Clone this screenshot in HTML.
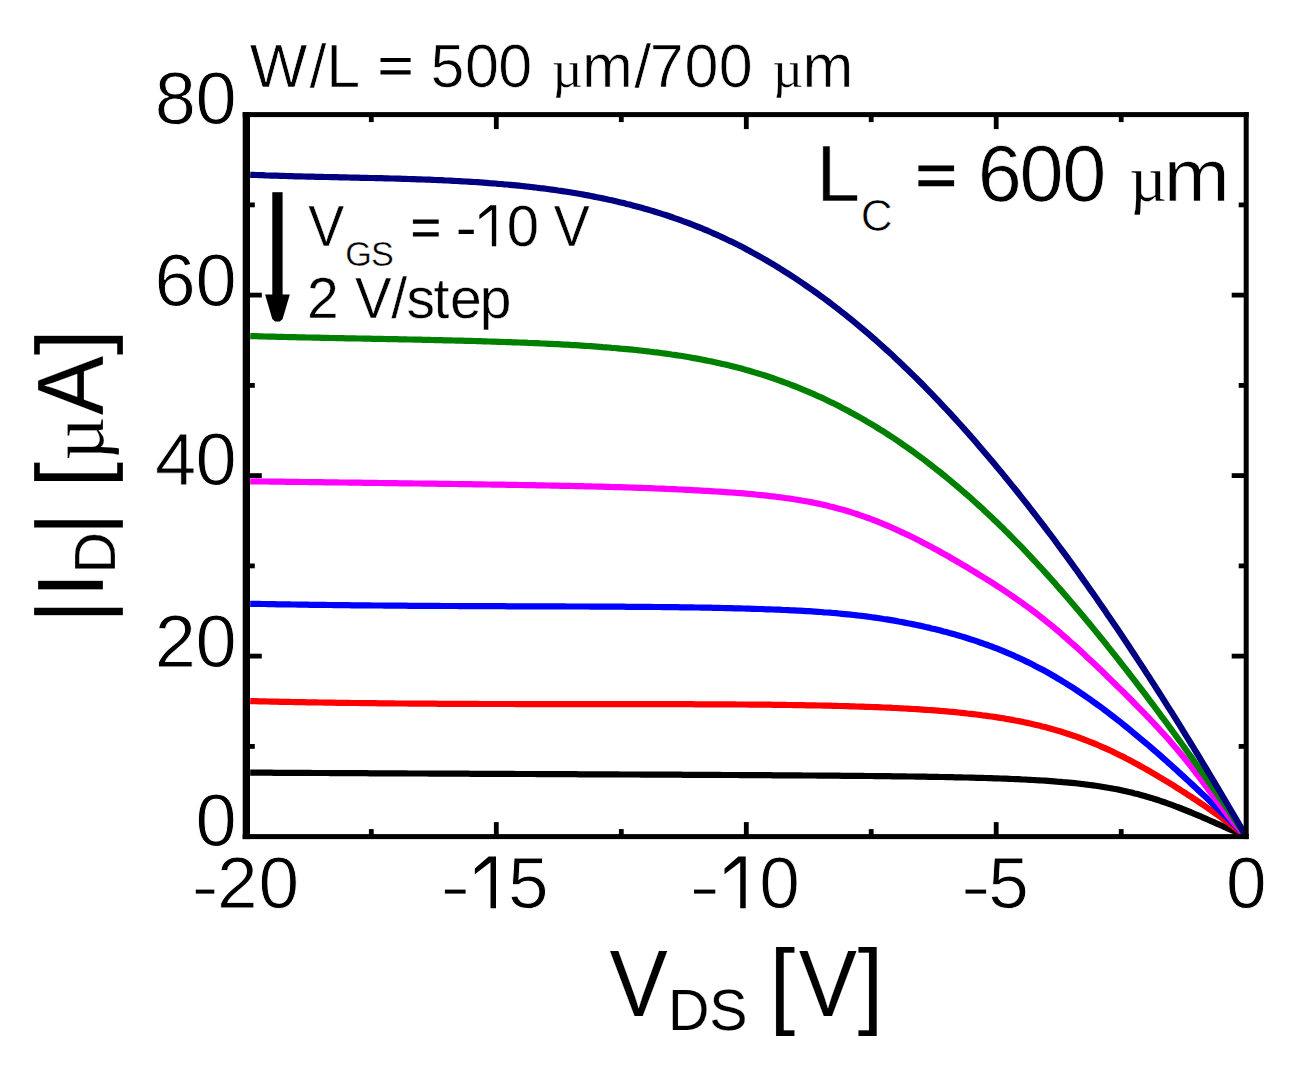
<!DOCTYPE html>
<html><head><meta charset="utf-8"><style>
html,body{margin:0;padding:0;background:#fff;overflow:hidden;}
svg{display:block;}
text{font-family:"Liberation Sans",sans-serif;fill:#000;}
.s{font-family:"Liberation Serif",serif;}
.t text{stroke:#fff;}
</style></head><body>
<svg width="1297" height="1069" viewBox="0 0 1297 1069">
<rect width="1297" height="1069" fill="#fff"/>
<defs><clipPath id="pc"><rect x="242.7" y="112.1" width="1006" height="727"/></clipPath></defs>
<g clip-path="url(#pc)">
<path d="M1246.2,836.6 L1243.7,835.5 L1241.2,834.4 L1238.7,833.3 L1236.2,832.1 L1233.7,831.0 L1231.2,829.9 L1228.7,828.8 L1226.2,827.7 L1223.7,826.6 L1221.2,825.5 L1218.7,824.4 L1216.2,823.3 L1213.7,822.2 L1211.2,821.1 L1208.7,820.0 L1206.2,818.9 L1203.7,817.8 L1201.2,816.7 L1198.7,815.7 L1196.2,814.6 L1193.7,813.6 L1191.2,812.5 L1188.7,811.5 L1186.2,810.5 L1183.7,809.5 L1181.2,808.5 L1178.7,807.5 L1176.2,806.6 L1173.7,805.6 L1171.2,804.7 L1168.7,803.8 L1166.2,802.9 L1163.7,802.0 L1161.2,801.2 L1158.7,800.3 L1156.2,799.5 L1153.7,798.7 L1151.2,797.9 L1148.7,797.2 L1146.2,796.5 L1143.7,795.7 L1140.7,794.9 L1137.7,794.1 L1134.7,793.4 L1131.7,792.6 L1128.8,791.9 L1125.8,791.2 L1122.8,790.6 L1119.8,789.9 L1116.8,789.3 L1113.8,788.8 L1110.8,788.2 L1107.8,787.7 L1104.9,787.2 L1101.9,786.7 L1098.9,786.2 L1095.9,785.8 L1092.9,785.4 L1089.9,785.0 L1086.9,784.6 L1083.9,784.2 L1080.9,783.9 L1078.0,783.5 L1075.0,783.2 L1072.0,782.9 L1069.0,782.6 L1066.0,782.3 L1063.0,782.1 L1060.0,781.8 L1057.0,781.6 L1054.1,781.3 L1051.1,781.1 L1048.1,780.9 L1045.1,780.7 L1042.1,780.5 L1039.1,780.3 L1036.1,780.2 L1033.1,780.0 L1030.1,779.8 L1027.2,779.7 L1024.2,779.5 L1021.2,779.4 L1018.2,779.2 L1015.2,779.1 L1012.2,779.0 L1009.2,778.8 L1006.2,778.7 L1003.3,778.6 L1000.3,778.5 L997.3,778.4 L994.3,778.3 L991.3,778.2 L988.3,778.1 L985.3,778.0 L982.3,777.9 L979.3,777.8 L976.4,777.8 L973.4,777.7 L970.4,777.6 L967.4,777.5 L964.4,777.5 L961.4,777.4 L958.4,777.3 L955.4,777.3 L952.4,777.2 L949.5,777.1 L946.5,777.1 L943.5,777.0 L940.5,777.0 L937.5,776.9 L934.5,776.9 L931.5,776.8 L928.5,776.8 L925.6,776.7 L922.6,776.7 L919.6,776.6 L916.6,776.6 L913.6,776.5 L910.6,776.5 L907.6,776.5 L904.6,776.4 L901.6,776.4 L898.7,776.3 L895.7,776.3 L892.7,776.3 L889.7,776.2 L886.7,776.2 L883.7,776.2 L880.7,776.1 L877.7,776.1 L874.8,776.1 L871.8,776.0 L868.8,776.0 L865.8,776.0 L862.8,775.9 L859.8,775.9 L856.8,775.9 L853.8,775.9 L850.8,775.8 L847.9,775.8 L844.9,775.8 L841.9,775.8 L838.9,775.7 L835.9,775.7 L832.9,775.7 L829.9,775.7 L826.9,775.6 L824.0,775.6 L821.0,775.6 L818.0,775.6 L815.0,775.5 L812.0,775.5 L809.0,775.5 L806.0,775.5 L803.0,775.5 L800.0,775.4 L797.1,775.4 L794.1,775.4 L791.1,775.4 L788.1,775.4 L785.1,775.3 L782.1,775.3 L779.1,775.3 L776.1,775.3 L773.2,775.3 L770.2,775.2 L767.2,775.2 L764.2,775.2 L761.2,775.2 L758.2,775.2 L755.2,775.1 L752.2,775.1 L749.2,775.1 L746.3,775.1 L743.3,775.1 L740.3,775.1 L737.3,775.0 L734.3,775.0 L731.3,775.0 L728.3,775.0 L725.3,775.0 L722.4,775.0 L719.4,774.9 L716.4,774.9 L713.4,774.9 L710.4,774.9 L707.4,774.9 L704.4,774.9 L701.4,774.9 L698.4,774.8 L695.5,774.8 L692.5,774.8 L689.5,774.8 L686.5,774.8 L683.5,774.8 L680.5,774.7 L677.5,774.7 L674.5,774.7 L671.5,774.7 L668.6,774.7 L665.6,774.7 L662.6,774.7 L659.6,774.6 L656.6,774.6 L653.6,774.6 L650.6,774.6 L647.6,774.6 L644.7,774.6 L641.7,774.6 L638.7,774.5 L635.7,774.5 L632.7,774.5 L629.7,774.5 L626.7,774.5 L623.7,774.5 L620.7,774.5 L617.8,774.4 L614.8,774.4 L611.8,774.4 L608.8,774.4 L605.8,774.4 L602.8,774.4 L599.8,774.4 L596.8,774.3 L593.9,774.3 L590.9,774.3 L587.9,774.3 L584.9,774.3 L581.9,774.3 L578.9,774.3 L575.9,774.2 L572.9,774.2 L569.9,774.2 L567.0,774.2 L564.0,774.2 L561.0,774.2 L558.0,774.2 L555.0,774.1 L552.0,774.1 L549.0,774.1 L546.0,774.1 L543.1,774.1 L540.1,774.1 L537.1,774.1 L534.1,774.0 L531.1,774.0 L528.1,774.0 L525.1,774.0 L522.1,774.0 L519.1,774.0 L516.2,774.0 L513.2,773.9 L510.2,773.9 L507.2,773.9 L504.2,773.9 L501.2,773.9 L498.2,773.9 L495.2,773.9 L492.3,773.9 L489.3,773.8 L486.3,773.8 L483.3,773.8 L480.3,773.8 L477.3,773.8 L474.3,773.8 L471.3,773.8 L468.3,773.7 L465.4,773.7 L462.4,773.7 L459.4,773.7 L456.4,773.7 L453.4,773.7 L450.4,773.7 L447.4,773.6 L444.4,773.6 L441.5,773.6 L438.5,773.6 L435.5,773.6 L432.5,773.6 L429.5,773.6 L426.5,773.5 L423.5,773.5 L420.5,773.5 L417.5,773.5 L414.6,773.5 L411.6,773.5 L408.6,773.5 L405.6,773.4 L402.6,773.4 L399.6,773.4 L396.6,773.4 L393.6,773.4 L390.6,773.4 L387.7,773.3 L384.7,773.3 L381.7,773.3 L378.7,773.3 L375.7,773.3 L372.7,773.3 L369.7,773.3 L366.7,773.2 L363.8,773.2 L360.8,773.2 L357.8,773.2 L354.8,773.2 L351.8,773.2 L348.8,773.2 L345.8,773.1 L342.8,773.1 L339.8,773.1 L336.9,773.1 L333.9,773.1 L330.9,773.1 L327.9,773.0 L324.9,773.0 L321.9,773.0 L318.9,773.0 L315.9,773.0 L313.0,773.0 L310.0,772.9 L307.0,772.9 L304.0,772.9 L301.0,772.9 L298.0,772.9 L295.0,772.9 L292.0,772.9 L289.0,772.8 L286.1,772.8 L283.1,772.8 L280.1,772.8 L277.1,772.8 L274.1,772.8 L271.1,772.7 L268.1,772.7 L265.1,772.7 L262.2,772.7 L259.2,772.7 L256.2,772.7 L253.2,772.6 L250.2,772.6" fill="none" stroke="#000000" stroke-width="6.2" stroke-linejoin="round"/>
<path d="M1246.2,836.6 L1243.7,834.6 L1241.2,832.6 L1238.7,830.7 L1236.2,828.7 L1233.7,826.8 L1231.2,824.9 L1228.7,823.1 L1226.2,821.2 L1223.7,819.4 L1221.2,817.6 L1218.7,815.8 L1216.2,814.0 L1213.7,812.2 L1211.2,810.4 L1208.7,808.7 L1206.2,807.0 L1203.7,805.3 L1201.2,803.6 L1198.7,801.9 L1196.2,800.2 L1193.7,798.6 L1191.2,796.9 L1188.7,795.3 L1186.2,793.7 L1183.7,792.1 L1181.2,790.5 L1178.7,788.9 L1176.2,787.3 L1173.7,785.7 L1171.2,784.2 L1168.7,782.6 L1166.2,781.1 L1163.7,779.6 L1161.2,778.1 L1158.7,776.6 L1156.2,775.1 L1153.7,773.6 L1151.2,772.2 L1148.7,770.7 L1146.2,769.3 L1143.7,767.9 L1140.7,766.2 L1137.7,764.5 L1134.7,762.9 L1131.7,761.3 L1128.8,759.7 L1125.8,758.2 L1122.8,756.6 L1119.8,755.2 L1116.8,753.7 L1113.8,752.2 L1110.8,750.8 L1107.8,749.4 L1104.9,748.1 L1101.9,746.8 L1098.9,745.5 L1095.9,744.2 L1092.9,743.0 L1089.9,741.8 L1086.9,740.6 L1083.9,739.5 L1080.9,738.3 L1078.0,737.3 L1075.0,736.2 L1072.0,735.2 L1069.0,734.2 L1066.0,733.2 L1063.0,732.3 L1060.0,731.3 L1057.0,730.5 L1054.1,729.6 L1051.1,728.7 L1048.1,727.9 L1045.1,727.1 L1042.1,726.4 L1039.1,725.6 L1036.1,724.9 L1033.1,724.2 L1030.1,723.5 L1027.2,722.9 L1024.2,722.3 L1021.2,721.6 L1018.2,721.0 L1015.2,720.5 L1012.2,719.9 L1009.2,719.4 L1006.2,718.9 L1003.3,718.3 L1000.3,717.9 L997.3,717.4 L994.3,716.9 L991.3,716.5 L988.3,716.1 L985.3,715.6 L982.3,715.3 L979.3,714.9 L976.4,714.5 L973.4,714.1 L970.4,713.8 L967.4,713.5 L964.4,713.1 L961.4,712.8 L958.4,712.5 L955.4,712.2 L952.4,711.9 L949.5,711.7 L946.5,711.4 L943.5,711.1 L940.5,710.9 L937.5,710.6 L934.5,710.4 L931.5,710.2 L928.5,710.0 L925.6,709.8 L922.6,709.6 L919.6,709.4 L916.6,709.2 L913.6,709.0 L910.6,708.8 L907.6,708.6 L904.6,708.5 L901.6,708.3 L898.7,708.2 L895.7,708.0 L892.7,707.9 L889.7,707.7 L886.7,707.6 L883.7,707.5 L880.7,707.3 L877.7,707.2 L874.8,707.1 L871.8,707.0 L868.8,706.9 L865.8,706.8 L862.8,706.7 L859.8,706.6 L856.8,706.5 L853.8,706.4 L850.8,706.3 L847.9,706.2 L844.9,706.1 L841.9,706.0 L838.9,706.0 L835.9,705.9 L832.9,705.8 L829.9,705.7 L826.9,705.7 L824.0,705.6 L821.0,705.5 L818.0,705.5 L815.0,705.4 L812.0,705.4 L809.0,705.3 L806.0,705.3 L803.0,705.2 L800.0,705.2 L797.1,705.1 L794.1,705.1 L791.1,705.0 L788.1,705.0 L785.1,704.9 L782.1,704.9 L779.1,704.9 L776.1,704.8 L773.2,704.8 L770.2,704.7 L767.2,704.7 L764.2,704.7 L761.2,704.7 L758.2,704.6 L755.2,704.6 L752.2,704.6 L749.2,704.6 L746.3,704.5 L743.3,704.5 L740.3,704.5 L737.3,704.5 L734.3,704.4 L731.3,704.4 L728.3,704.4 L725.3,704.4 L722.4,704.4 L719.4,704.4 L716.4,704.3 L713.4,704.3 L710.4,704.3 L707.4,704.3 L704.4,704.3 L701.4,704.3 L698.4,704.3 L695.5,704.3 L692.5,704.2 L689.5,704.2 L686.5,704.2 L683.5,704.2 L680.5,704.2 L677.5,704.2 L674.5,704.2 L671.5,704.2 L668.6,704.2 L665.6,704.2 L662.6,704.2 L659.6,704.2 L656.6,704.2 L653.6,704.2 L650.6,704.2 L647.6,704.2 L644.7,704.2 L641.7,704.2 L638.7,704.1 L635.7,704.1 L632.7,704.1 L629.7,704.1 L626.7,704.1 L623.7,704.1 L620.7,704.1 L617.8,704.1 L614.8,704.1 L611.8,704.1 L608.8,704.1 L605.8,704.1 L602.8,704.1 L599.8,704.1 L596.8,704.1 L593.9,704.1 L590.9,704.1 L587.9,704.1 L584.9,704.1 L581.9,704.1 L578.9,704.1 L575.9,704.1 L572.9,704.1 L569.9,704.1 L567.0,704.1 L564.0,704.1 L561.0,704.1 L558.0,704.1 L555.0,704.1 L552.0,704.1 L549.0,704.1 L546.0,704.1 L543.1,704.1 L540.1,704.1 L537.1,704.1 L534.1,704.1 L531.1,704.1 L528.1,704.1 L525.1,704.1 L522.1,704.1 L519.1,704.1 L516.2,704.1 L513.2,704.0 L510.2,704.0 L507.2,704.0 L504.2,704.0 L501.2,704.0 L498.2,704.0 L495.2,704.0 L492.3,704.0 L489.3,704.0 L486.3,704.0 L483.3,704.0 L480.3,704.0 L477.3,703.9 L474.3,703.9 L471.3,703.9 L468.3,703.9 L465.4,703.9 L462.4,703.9 L459.4,703.9 L456.4,703.9 L453.4,703.8 L450.4,703.8 L447.4,703.8 L444.4,703.8 L441.5,703.8 L438.5,703.8 L435.5,703.7 L432.5,703.7 L429.5,703.7 L426.5,703.7 L423.5,703.7 L420.5,703.6 L417.5,703.6 L414.6,703.6 L411.6,703.6 L408.6,703.6 L405.6,703.5 L402.6,703.5 L399.6,703.5 L396.6,703.5 L393.6,703.4 L390.6,703.4 L387.7,703.4 L384.7,703.3 L381.7,703.3 L378.7,703.3 L375.7,703.2 L372.7,703.2 L369.7,703.2 L366.7,703.1 L363.8,703.1 L360.8,703.1 L357.8,703.0 L354.8,703.0 L351.8,703.0 L348.8,702.9 L345.8,702.9 L342.8,702.8 L339.8,702.8 L336.9,702.8 L333.9,702.7 L330.9,702.7 L327.9,702.6 L324.9,702.6 L321.9,702.5 L318.9,702.5 L315.9,702.4 L313.0,702.4 L310.0,702.3 L307.0,702.3 L304.0,702.2 L301.0,702.2 L298.0,702.1 L295.0,702.1 L292.0,702.0 L289.0,701.9 L286.1,701.9 L283.1,701.8 L280.1,701.8 L277.1,701.7 L274.1,701.6 L271.1,701.6 L268.1,701.5 L265.1,701.4 L262.2,701.4 L259.2,701.3 L256.2,701.2 L253.2,701.2 L250.2,701.1" fill="none" stroke="#ff0000" stroke-width="6.2" stroke-linejoin="round"/>
<path d="M1246.2,836.6 L1243.7,834.1 L1241.2,831.6 L1238.7,829.1 L1236.2,826.6 L1233.7,824.2 L1231.2,821.7 L1228.7,819.3 L1226.2,816.8 L1223.7,814.4 L1221.2,812.0 L1218.7,809.6 L1216.2,807.2 L1213.7,804.8 L1211.2,802.4 L1208.7,800.0 L1206.2,797.6 L1203.7,795.3 L1201.2,792.9 L1198.7,790.6 L1196.2,788.2 L1193.7,785.9 L1191.2,783.6 L1188.7,781.3 L1186.2,778.9 L1183.7,776.6 L1181.2,774.4 L1178.7,772.1 L1176.2,769.8 L1173.7,767.6 L1171.2,765.3 L1168.7,763.1 L1166.2,760.8 L1163.7,758.6 L1161.2,756.4 L1158.7,754.2 L1156.2,752.0 L1153.7,749.8 L1151.2,747.7 L1148.7,745.5 L1146.2,743.4 L1143.7,741.3 L1140.7,738.8 L1137.7,736.3 L1134.7,733.8 L1131.7,731.3 L1128.8,728.9 L1125.8,726.5 L1122.8,724.1 L1119.8,721.7 L1116.8,719.3 L1113.8,717.0 L1110.8,714.7 L1107.8,712.4 L1104.9,710.2 L1101.9,707.9 L1098.9,705.7 L1095.9,703.6 L1092.9,701.4 L1089.9,699.3 L1086.9,697.2 L1083.9,695.1 L1080.9,693.1 L1078.0,691.1 L1075.0,689.1 L1072.0,687.2 L1069.0,685.3 L1066.0,683.4 L1063.0,681.6 L1060.0,679.7 L1057.0,678.0 L1054.1,676.2 L1051.1,674.5 L1048.1,672.8 L1045.1,671.1 L1042.1,669.5 L1039.1,667.9 L1036.1,666.4 L1033.1,664.8 L1030.1,663.3 L1027.2,661.9 L1024.2,660.4 L1021.2,659.0 L1018.2,657.6 L1015.2,656.3 L1012.2,654.9 L1009.2,653.7 L1006.2,652.4 L1003.3,651.1 L1000.3,649.9 L997.3,648.7 L994.3,647.6 L991.3,646.4 L988.3,645.3 L985.3,644.3 L982.3,643.2 L979.3,642.2 L976.4,641.1 L973.4,640.1 L970.4,639.2 L967.4,638.2 L964.4,637.3 L961.4,636.4 L958.4,635.5 L955.4,634.6 L952.4,633.8 L949.5,633.0 L946.5,632.1 L943.5,631.4 L940.5,630.6 L937.5,629.8 L934.5,629.1 L931.5,628.4 L928.5,627.6 L925.6,627.0 L922.6,626.3 L919.6,625.6 L916.6,625.0 L913.6,624.4 L910.6,623.8 L907.6,623.2 L904.6,622.6 L901.6,622.0 L898.7,621.5 L895.7,620.9 L892.7,620.4 L889.7,619.9 L886.7,619.4 L883.7,619.0 L880.7,618.5 L877.7,618.0 L874.8,617.6 L871.8,617.2 L868.8,616.8 L865.8,616.4 L862.8,616.0 L859.8,615.7 L856.8,615.3 L853.8,615.0 L850.8,614.7 L847.9,614.4 L844.9,614.1 L841.9,613.8 L838.9,613.5 L835.9,613.2 L832.9,613.0 L829.9,612.7 L826.9,612.5 L824.0,612.3 L821.0,612.0 L818.0,611.8 L815.0,611.6 L812.0,611.4 L809.0,611.2 L806.0,611.1 L803.0,610.9 L800.0,610.7 L797.1,610.6 L794.1,610.4 L791.1,610.3 L788.1,610.1 L785.1,610.0 L782.1,609.9 L779.1,609.7 L776.1,609.6 L773.2,609.5 L770.2,609.4 L767.2,609.3 L764.2,609.2 L761.2,609.0 L758.2,609.0 L755.2,608.9 L752.2,608.8 L749.2,608.7 L746.3,608.6 L743.3,608.5 L740.3,608.4 L737.3,608.3 L734.3,608.3 L731.3,608.2 L728.3,608.1 L725.3,608.1 L722.4,608.0 L719.4,607.9 L716.4,607.9 L713.4,607.8 L710.4,607.7 L707.4,607.7 L704.4,607.6 L701.4,607.6 L698.4,607.5 L695.5,607.5 L692.5,607.4 L689.5,607.4 L686.5,607.4 L683.5,607.3 L680.5,607.3 L677.5,607.2 L674.5,607.2 L671.5,607.2 L668.6,607.1 L665.6,607.1 L662.6,607.1 L659.6,607.0 L656.6,607.0 L653.6,607.0 L650.6,606.9 L647.6,606.9 L644.7,606.9 L641.7,606.9 L638.7,606.8 L635.7,606.8 L632.7,606.8 L629.7,606.8 L626.7,606.8 L623.7,606.7 L620.7,606.7 L617.8,606.7 L614.8,606.7 L611.8,606.7 L608.8,606.6 L605.8,606.6 L602.8,606.6 L599.8,606.6 L596.8,606.6 L593.9,606.6 L590.9,606.6 L587.9,606.5 L584.9,606.5 L581.9,606.5 L578.9,606.5 L575.9,606.5 L572.9,606.5 L569.9,606.5 L567.0,606.5 L564.0,606.4 L561.0,606.4 L558.0,606.4 L555.0,606.4 L552.0,606.4 L549.0,606.4 L546.0,606.4 L543.1,606.4 L540.1,606.4 L537.1,606.4 L534.1,606.3 L531.1,606.3 L528.1,606.3 L525.1,606.3 L522.1,606.3 L519.1,606.3 L516.2,606.3 L513.2,606.3 L510.2,606.3 L507.2,606.3 L504.2,606.2 L501.2,606.2 L498.2,606.2 L495.2,606.2 L492.3,606.2 L489.3,606.2 L486.3,606.2 L483.3,606.2 L480.3,606.1 L477.3,606.1 L474.3,606.1 L471.3,606.1 L468.3,606.1 L465.4,606.1 L462.4,606.1 L459.4,606.1 L456.4,606.0 L453.4,606.0 L450.4,606.0 L447.4,606.0 L444.4,606.0 L441.5,606.0 L438.5,605.9 L435.5,605.9 L432.5,605.9 L429.5,605.9 L426.5,605.9 L423.5,605.9 L420.5,605.8 L417.5,605.8 L414.6,605.8 L411.6,605.8 L408.6,605.8 L405.6,605.7 L402.6,605.7 L399.6,605.7 L396.6,605.7 L393.6,605.6 L390.6,605.6 L387.7,605.6 L384.7,605.6 L381.7,605.5 L378.7,605.5 L375.7,605.5 L372.7,605.5 L369.7,605.4 L366.7,605.4 L363.8,605.4 L360.8,605.4 L357.8,605.3 L354.8,605.3 L351.8,605.3 L348.8,605.2 L345.8,605.2 L342.8,605.2 L339.8,605.1 L336.9,605.1 L333.9,605.1 L330.9,605.0 L327.9,605.0 L324.9,604.9 L321.9,604.9 L318.9,604.9 L315.9,604.8 L313.0,604.8 L310.0,604.8 L307.0,604.7 L304.0,604.7 L301.0,604.6 L298.0,604.6 L295.0,604.5 L292.0,604.5 L289.0,604.4 L286.1,604.4 L283.1,604.3 L280.1,604.3 L277.1,604.3 L274.1,604.2 L271.1,604.2 L268.1,604.1 L265.1,604.0 L262.2,604.0 L259.2,603.9 L256.2,603.9 L253.2,603.8 L250.2,603.8" fill="none" stroke="#0000ff" stroke-width="6.2" stroke-linejoin="round"/>
<path d="M1246.2,836.6 L1243.7,833.9 L1241.2,831.2 L1238.7,828.3 L1236.2,825.4 L1233.7,822.4 L1231.2,819.3 L1228.7,816.2 L1226.2,813.0 L1223.7,809.8 L1221.2,806.5 L1218.7,803.2 L1216.2,799.9 L1213.7,796.5 L1211.2,793.2 L1208.7,789.8 L1206.2,786.5 L1203.7,783.1 L1201.2,779.7 L1198.7,776.4 L1196.2,773.1 L1193.7,769.9 L1191.2,766.6 L1188.7,763.5 L1186.2,760.3 L1183.7,757.3 L1181.2,754.2 L1178.7,751.2 L1176.2,748.3 L1173.7,745.4 L1171.2,742.5 L1168.7,739.6 L1166.2,736.8 L1163.7,734.0 L1161.2,731.3 L1158.7,728.5 L1156.2,725.8 L1153.7,723.2 L1151.2,720.5 L1148.7,717.9 L1146.2,715.3 L1143.7,712.7 L1140.7,709.6 L1137.7,706.6 L1134.7,703.5 L1131.7,700.5 L1128.8,697.5 L1125.8,694.5 L1122.8,691.6 L1119.8,688.6 L1116.8,685.7 L1113.8,682.7 L1110.8,679.8 L1107.8,676.9 L1104.9,674.0 L1101.9,671.1 L1098.9,668.2 L1095.9,665.3 L1092.9,662.5 L1089.9,659.7 L1086.9,656.9 L1083.9,654.1 L1080.9,651.3 L1078.0,648.6 L1075.0,645.9 L1072.0,643.2 L1069.0,640.6 L1066.0,637.9 L1063.0,635.3 L1060.0,632.7 L1057.0,630.2 L1054.1,627.7 L1051.1,625.2 L1048.1,622.8 L1045.1,620.4 L1042.1,618.0 L1039.1,615.6 L1036.1,613.3 L1033.1,611.1 L1030.1,608.8 L1027.2,606.6 L1024.2,604.4 L1021.2,602.3 L1018.2,600.2 L1015.2,598.1 L1012.2,596.0 L1009.2,594.0 L1006.2,592.0 L1003.3,590.0 L1000.3,588.0 L997.3,586.1 L994.3,584.2 L991.3,582.2 L988.3,580.4 L985.3,578.5 L982.3,576.6 L979.3,574.8 L976.4,573.0 L973.4,571.1 L970.4,569.3 L967.4,567.5 L964.4,565.8 L961.4,564.0 L958.4,562.2 L955.4,560.5 L952.4,558.8 L949.5,557.0 L946.5,555.3 L943.5,553.7 L940.5,552.0 L937.5,550.3 L934.5,548.7 L931.5,547.1 L928.5,545.5 L925.6,543.9 L922.6,542.4 L919.6,540.8 L916.6,539.3 L913.6,537.8 L910.6,536.3 L907.6,534.9 L904.6,533.5 L901.6,532.1 L898.7,530.7 L895.7,529.3 L892.7,528.0 L889.7,526.7 L886.7,525.4 L883.7,524.1 L880.7,522.9 L877.7,521.7 L874.8,520.5 L871.8,519.4 L868.8,518.2 L865.8,517.2 L862.8,516.1 L859.8,515.1 L856.8,514.0 L853.8,513.1 L850.8,512.1 L847.9,511.2 L844.9,510.3 L841.9,509.5 L838.9,508.7 L835.9,507.9 L832.9,507.1 L829.9,506.4 L826.9,505.6 L824.0,504.9 L821.0,504.3 L818.0,503.6 L815.0,503.0 L812.0,502.4 L809.0,501.8 L806.0,501.3 L803.0,500.8 L800.0,500.2 L797.1,499.7 L794.1,499.3 L791.1,498.8 L788.1,498.4 L785.1,498.0 L782.1,497.5 L779.1,497.2 L776.1,496.8 L773.2,496.4 L770.2,496.1 L767.2,495.7 L764.2,495.4 L761.2,495.1 L758.2,494.8 L755.2,494.5 L752.2,494.2 L749.2,494.0 L746.3,493.7 L743.3,493.4 L740.3,493.2 L737.3,493.0 L734.3,492.7 L731.3,492.5 L728.3,492.3 L725.3,492.1 L722.4,491.9 L719.4,491.7 L716.4,491.5 L713.4,491.3 L710.4,491.1 L707.4,490.9 L704.4,490.8 L701.4,490.6 L698.4,490.4 L695.5,490.3 L692.5,490.1 L689.5,489.9 L686.5,489.8 L683.5,489.6 L680.5,489.5 L677.5,489.4 L674.5,489.2 L671.5,489.1 L668.6,489.0 L665.6,488.8 L662.6,488.7 L659.6,488.6 L656.6,488.5 L653.6,488.3 L650.6,488.2 L647.6,488.1 L644.7,488.0 L641.7,487.9 L638.7,487.8 L635.7,487.7 L632.7,487.6 L629.7,487.5 L626.7,487.4 L623.7,487.3 L620.7,487.2 L617.8,487.1 L614.8,487.1 L611.8,487.0 L608.8,486.9 L605.8,486.8 L602.8,486.7 L599.8,486.7 L596.8,486.6 L593.9,486.5 L590.9,486.4 L587.9,486.4 L584.9,486.3 L581.9,486.2 L578.9,486.1 L575.9,486.1 L572.9,486.0 L569.9,485.9 L567.0,485.9 L564.0,485.8 L561.0,485.8 L558.0,485.7 L555.0,485.6 L552.0,485.6 L549.0,485.5 L546.0,485.5 L543.1,485.4 L540.1,485.4 L537.1,485.3 L534.1,485.2 L531.1,485.2 L528.1,485.1 L525.1,485.1 L522.1,485.0 L519.1,485.0 L516.2,484.9 L513.2,484.9 L510.2,484.8 L507.2,484.8 L504.2,484.7 L501.2,484.7 L498.2,484.7 L495.2,484.6 L492.3,484.6 L489.3,484.5 L486.3,484.5 L483.3,484.4 L480.3,484.4 L477.3,484.3 L474.3,484.3 L471.3,484.2 L468.3,484.2 L465.4,484.2 L462.4,484.1 L459.4,484.1 L456.4,484.0 L453.4,484.0 L450.4,483.9 L447.4,483.9 L444.4,483.9 L441.5,483.8 L438.5,483.8 L435.5,483.7 L432.5,483.7 L429.5,483.7 L426.5,483.6 L423.5,483.6 L420.5,483.5 L417.5,483.5 L414.6,483.5 L411.6,483.4 L408.6,483.4 L405.6,483.3 L402.6,483.3 L399.6,483.3 L396.6,483.2 L393.6,483.2 L390.6,483.1 L387.7,483.1 L384.7,483.1 L381.7,483.0 L378.7,483.0 L375.7,482.9 L372.7,482.9 L369.7,482.9 L366.7,482.8 L363.8,482.8 L360.8,482.7 L357.8,482.7 L354.8,482.7 L351.8,482.6 L348.8,482.6 L345.8,482.5 L342.8,482.5 L339.8,482.5 L336.9,482.4 L333.9,482.4 L330.9,482.4 L327.9,482.3 L324.9,482.3 L321.9,482.2 L318.9,482.2 L315.9,482.2 L313.0,482.1 L310.0,482.1 L307.0,482.0 L304.0,482.0 L301.0,482.0 L298.0,481.9 L295.0,481.9 L292.0,481.9 L289.0,481.8 L286.1,481.8 L283.1,481.7 L280.1,481.7 L277.1,481.7 L274.1,481.6 L271.1,481.6 L268.1,481.5 L265.1,481.5 L262.2,481.5 L259.2,481.4 L256.2,481.4 L253.2,481.4 L250.2,481.3" fill="none" stroke="#ff00ff" stroke-width="6.2" stroke-linejoin="round"/>
<path d="M1246.2,836.6 L1243.7,832.9 L1241.2,829.1 L1238.7,825.4 L1236.2,821.7 L1233.7,818.0 L1231.2,814.3 L1228.7,810.6 L1226.2,807.0 L1223.7,803.3 L1221.2,799.7 L1218.7,796.1 L1216.2,792.5 L1213.7,788.9 L1211.2,785.3 L1208.7,781.7 L1206.2,778.1 L1203.7,774.6 L1201.2,771.0 L1198.7,767.5 L1196.2,764.0 L1193.7,760.4 L1191.2,756.9 L1188.7,753.5 L1186.2,750.0 L1183.7,746.5 L1181.2,743.0 L1178.7,739.6 L1176.2,736.2 L1173.7,732.7 L1171.2,729.3 L1168.7,725.9 L1166.2,722.5 L1163.7,719.1 L1161.2,715.8 L1158.7,712.4 L1156.2,709.0 L1153.7,705.7 L1151.2,702.4 L1148.7,699.1 L1146.2,695.7 L1143.7,692.4 L1140.7,688.5 L1137.7,684.6 L1134.7,680.7 L1131.7,676.8 L1128.8,673.0 L1125.8,669.1 L1122.8,665.3 L1119.8,661.5 L1116.8,657.7 L1113.8,653.9 L1110.8,650.1 L1107.8,646.4 L1104.9,642.7 L1101.9,638.9 L1098.9,635.3 L1095.9,631.6 L1092.9,627.9 L1089.9,624.3 L1086.9,620.7 L1083.9,617.1 L1080.9,613.5 L1078.0,610.0 L1075.0,606.4 L1072.0,602.9 L1069.0,599.4 L1066.0,596.0 L1063.0,592.5 L1060.0,589.1 L1057.0,585.7 L1054.1,582.3 L1051.1,579.0 L1048.1,575.6 L1045.1,572.3 L1042.1,569.0 L1039.1,565.8 L1036.1,562.5 L1033.1,559.3 L1030.1,556.1 L1027.2,553.0 L1024.2,549.8 L1021.2,546.7 L1018.2,543.6 L1015.2,540.6 L1012.2,537.6 L1009.2,534.5 L1006.2,531.6 L1003.3,528.6 L1000.3,525.7 L997.3,522.8 L994.3,519.9 L991.3,517.0 L988.3,514.2 L985.3,511.4 L982.3,508.6 L979.3,505.9 L976.4,503.2 L973.4,500.5 L970.4,497.8 L967.4,495.2 L964.4,492.6 L961.4,490.0 L958.4,487.4 L955.4,484.9 L952.4,482.3 L949.5,479.9 L946.5,477.4 L943.5,475.0 L940.5,472.5 L937.5,470.2 L934.5,467.8 L931.5,465.5 L928.5,463.2 L925.6,460.9 L922.6,458.6 L919.6,456.4 L916.6,454.2 L913.6,452.0 L910.6,449.9 L907.6,447.8 L904.6,445.7 L901.6,443.6 L898.7,441.5 L895.7,439.5 L892.7,437.5 L889.7,435.6 L886.7,433.6 L883.7,431.7 L880.7,429.8 L877.7,428.0 L874.8,426.2 L871.8,424.4 L868.8,422.6 L865.8,420.8 L862.8,419.1 L859.8,417.4 L856.8,415.7 L853.8,414.0 L850.8,412.4 L847.9,410.8 L844.9,409.2 L841.9,407.7 L838.9,406.1 L835.9,404.6 L832.9,403.1 L829.9,401.7 L826.9,400.2 L824.0,398.8 L821.0,397.4 L818.0,396.1 L815.0,394.7 L812.0,393.4 L809.0,392.1 L806.0,390.8 L803.0,389.6 L800.0,388.4 L797.1,387.2 L794.1,386.0 L791.1,384.8 L788.1,383.7 L785.1,382.6 L782.1,381.5 L779.1,380.4 L776.1,379.3 L773.2,378.3 L770.2,377.3 L767.2,376.3 L764.2,375.3 L761.2,374.4 L758.2,373.5 L755.2,372.6 L752.2,371.7 L749.2,370.8 L746.3,370.0 L743.3,369.1 L740.3,368.3 L737.3,367.6 L734.3,366.8 L731.3,366.0 L728.3,365.3 L725.3,364.6 L722.4,363.9 L719.4,363.2 L716.4,362.6 L713.4,361.9 L710.4,361.3 L707.4,360.7 L704.4,360.1 L701.4,359.5 L698.4,358.9 L695.5,358.4 L692.5,357.9 L689.5,357.3 L686.5,356.8 L683.5,356.3 L680.5,355.8 L677.5,355.4 L674.5,354.9 L671.5,354.5 L668.6,354.0 L665.6,353.6 L662.6,353.2 L659.6,352.8 L656.6,352.4 L653.6,352.1 L650.6,351.7 L647.6,351.3 L644.7,351.0 L641.7,350.7 L638.7,350.3 L635.7,350.0 L632.7,349.7 L629.7,349.4 L626.7,349.1 L623.7,348.8 L620.7,348.6 L617.8,348.3 L614.8,348.0 L611.8,347.8 L608.8,347.5 L605.8,347.3 L602.8,347.1 L599.8,346.8 L596.8,346.6 L593.9,346.4 L590.9,346.2 L587.9,346.0 L584.9,345.8 L581.9,345.6 L578.9,345.4 L575.9,345.2 L572.9,345.1 L569.9,344.9 L567.0,344.7 L564.0,344.6 L561.0,344.4 L558.0,344.2 L555.0,344.1 L552.0,343.9 L549.0,343.8 L546.0,343.6 L543.1,343.5 L540.1,343.4 L537.1,343.2 L534.1,343.1 L531.1,343.0 L528.1,342.9 L525.1,342.7 L522.1,342.6 L519.1,342.5 L516.2,342.4 L513.2,342.3 L510.2,342.2 L507.2,342.1 L504.2,342.0 L501.2,341.9 L498.2,341.8 L495.2,341.7 L492.3,341.6 L489.3,341.5 L486.3,341.4 L483.3,341.3 L480.3,341.2 L477.3,341.1 L474.3,341.0 L471.3,340.9 L468.3,340.9 L465.4,340.8 L462.4,340.7 L459.4,340.6 L456.4,340.6 L453.4,340.5 L450.4,340.4 L447.4,340.3 L444.4,340.3 L441.5,340.2 L438.5,340.1 L435.5,340.1 L432.5,340.0 L429.5,339.9 L426.5,339.9 L423.5,339.8 L420.5,339.7 L417.5,339.7 L414.6,339.6 L411.6,339.5 L408.6,339.5 L405.6,339.4 L402.6,339.4 L399.6,339.3 L396.6,339.2 L393.6,339.2 L390.6,339.1 L387.7,339.1 L384.7,339.0 L381.7,338.9 L378.7,338.9 L375.7,338.8 L372.7,338.8 L369.7,338.7 L366.7,338.7 L363.8,338.6 L360.8,338.5 L357.8,338.5 L354.8,338.4 L351.8,338.4 L348.8,338.3 L345.8,338.3 L342.8,338.2 L339.8,338.1 L336.9,338.1 L333.9,338.0 L330.9,338.0 L327.9,337.9 L324.9,337.8 L321.9,337.8 L318.9,337.7 L315.9,337.6 L313.0,337.6 L310.0,337.5 L307.0,337.5 L304.0,337.4 L301.0,337.3 L298.0,337.3 L295.0,337.2 L292.0,337.1 L289.0,337.1 L286.1,337.0 L283.1,336.9 L280.1,336.8 L277.1,336.8 L274.1,336.7 L271.1,336.6 L268.1,336.6 L265.1,336.5 L262.2,336.4 L259.2,336.3 L256.2,336.2 L253.2,336.2 L250.2,336.1" fill="none" stroke="#008000" stroke-width="6.2" stroke-linejoin="round"/>
<path d="M1246.2,836.6 L1243.7,832.2 L1241.2,827.9 L1238.7,823.6 L1236.2,819.3 L1233.7,815.0 L1231.2,810.7 L1228.7,806.5 L1226.2,802.2 L1223.7,798.0 L1221.2,793.7 L1218.7,789.5 L1216.2,785.3 L1213.7,781.1 L1211.2,777.0 L1208.7,772.8 L1206.2,768.6 L1203.7,764.5 L1201.2,760.4 L1198.7,756.2 L1196.2,752.1 L1193.7,748.0 L1191.2,744.0 L1188.7,739.9 L1186.2,735.8 L1183.7,731.8 L1181.2,727.7 L1178.7,723.7 L1176.2,719.7 L1173.7,715.7 L1171.2,711.7 L1168.7,707.8 L1166.2,703.8 L1163.7,699.8 L1161.2,695.9 L1158.7,692.0 L1156.2,688.1 L1153.7,684.2 L1151.2,680.3 L1148.7,676.4 L1146.2,672.6 L1143.7,668.7 L1140.7,664.1 L1137.7,659.6 L1134.7,655.0 L1131.7,650.5 L1128.8,646.0 L1125.8,641.5 L1122.8,637.0 L1119.8,632.5 L1116.8,628.1 L1113.8,623.7 L1110.8,619.3 L1107.8,614.9 L1104.9,610.6 L1101.9,606.2 L1098.9,601.9 L1095.9,597.6 L1092.9,593.3 L1089.9,589.1 L1086.9,584.8 L1083.9,580.6 L1080.9,576.4 L1078.0,572.2 L1075.0,568.1 L1072.0,563.9 L1069.0,559.8 L1066.0,555.7 L1063.0,551.6 L1060.0,547.6 L1057.0,543.5 L1054.1,539.5 L1051.1,535.5 L1048.1,531.6 L1045.1,527.6 L1042.1,523.7 L1039.1,519.8 L1036.1,515.9 L1033.1,512.0 L1030.1,508.2 L1027.2,504.4 L1024.2,500.6 L1021.2,496.8 L1018.2,493.0 L1015.2,489.3 L1012.2,485.6 L1009.2,481.9 L1006.2,478.2 L1003.3,474.6 L1000.3,471.0 L997.3,467.4 L994.3,463.8 L991.3,460.2 L988.3,456.7 L985.3,453.2 L982.3,449.7 L979.3,446.2 L976.4,442.7 L973.4,439.3 L970.4,435.9 L967.4,432.5 L964.4,429.2 L961.4,425.8 L958.4,422.5 L955.4,419.2 L952.4,415.9 L949.5,412.7 L946.5,409.5 L943.5,406.3 L940.5,403.1 L937.5,399.9 L934.5,396.8 L931.5,393.7 L928.5,390.6 L925.6,387.6 L922.6,384.5 L919.6,381.5 L916.6,378.6 L913.6,375.6 L910.6,372.7 L907.6,369.8 L904.6,366.9 L901.6,364.0 L898.7,361.2 L895.7,358.4 L892.7,355.6 L889.7,352.8 L886.7,350.1 L883.7,347.4 L880.7,344.7 L877.7,342.0 L874.8,339.4 L871.8,336.8 L868.8,334.2 L865.8,331.7 L862.8,329.1 L859.8,326.6 L856.8,324.1 L853.8,321.7 L850.8,319.2 L847.9,316.8 L844.9,314.4 L841.9,312.1 L838.9,309.7 L835.9,307.4 L832.9,305.1 L829.9,302.8 L826.9,300.6 L824.0,298.4 L821.0,296.2 L818.0,294.0 L815.0,291.9 L812.0,289.8 L809.0,287.7 L806.0,285.6 L803.0,283.5 L800.0,281.5 L797.1,279.5 L794.1,277.5 L791.1,275.6 L788.1,273.7 L785.1,271.8 L782.1,269.9 L779.1,268.0 L776.1,266.2 L773.2,264.4 L770.2,262.6 L767.2,260.8 L764.2,259.1 L761.2,257.4 L758.2,255.7 L755.2,254.1 L752.2,252.4 L749.2,250.8 L746.3,249.2 L743.3,247.6 L740.3,246.1 L737.3,244.6 L734.3,243.1 L731.3,241.6 L728.3,240.2 L725.3,238.8 L722.4,237.4 L719.4,236.0 L716.4,234.6 L713.4,233.3 L710.4,232.0 L707.4,230.7 L704.4,229.5 L701.4,228.2 L698.4,227.0 L695.5,225.8 L692.5,224.6 L689.5,223.5 L686.5,222.4 L683.5,221.3 L680.5,220.2 L677.5,219.1 L674.5,218.1 L671.5,217.0 L668.6,216.0 L665.6,215.0 L662.6,214.1 L659.6,213.1 L656.6,212.2 L653.6,211.3 L650.6,210.4 L647.6,209.5 L644.7,208.7 L641.7,207.8 L638.7,207.0 L635.7,206.2 L632.7,205.4 L629.7,204.6 L626.7,203.9 L623.7,203.1 L620.7,202.4 L617.8,201.7 L614.8,201.0 L611.8,200.3 L608.8,199.7 L605.8,199.0 L602.8,198.4 L599.8,197.8 L596.8,197.2 L593.9,196.6 L590.9,196.0 L587.9,195.4 L584.9,194.9 L581.9,194.3 L578.9,193.8 L575.9,193.3 L572.9,192.8 L569.9,192.3 L567.0,191.8 L564.0,191.4 L561.0,190.9 L558.0,190.5 L555.0,190.0 L552.0,189.6 L549.0,189.2 L546.0,188.8 L543.1,188.4 L540.1,188.1 L537.1,187.7 L534.1,187.3 L531.1,187.0 L528.1,186.7 L525.1,186.3 L522.1,186.0 L519.1,185.7 L516.2,185.4 L513.2,185.1 L510.2,184.8 L507.2,184.5 L504.2,184.3 L501.2,184.0 L498.2,183.8 L495.2,183.5 L492.3,183.3 L489.3,183.1 L486.3,182.8 L483.3,182.6 L480.3,182.4 L477.3,182.2 L474.3,182.0 L471.3,181.8 L468.3,181.6 L465.4,181.5 L462.4,181.3 L459.4,181.1 L456.4,181.0 L453.4,180.8 L450.4,180.6 L447.4,180.5 L444.4,180.4 L441.5,180.2 L438.5,180.1 L435.5,180.0 L432.5,179.8 L429.5,179.7 L426.5,179.6 L423.5,179.5 L420.5,179.4 L417.5,179.3 L414.6,179.2 L411.6,179.1 L408.6,179.0 L405.6,178.9 L402.6,178.8 L399.6,178.7 L396.6,178.6 L393.6,178.5 L390.6,178.5 L387.7,178.4 L384.7,178.3 L381.7,178.2 L378.7,178.2 L375.7,178.1 L372.7,178.0 L369.7,178.0 L366.7,177.9 L363.8,177.8 L360.8,177.8 L357.8,177.7 L354.8,177.6 L351.8,177.6 L348.8,177.5 L345.8,177.4 L342.8,177.4 L339.8,177.3 L336.9,177.2 L333.9,177.2 L330.9,177.1 L327.9,177.0 L324.9,177.0 L321.9,176.9 L318.9,176.8 L315.9,176.8 L313.0,176.7 L310.0,176.6 L307.0,176.6 L304.0,176.5 L301.0,176.4 L298.0,176.3 L295.0,176.3 L292.0,176.2 L289.0,176.1 L286.1,176.0 L283.1,175.9 L280.1,175.8 L277.1,175.7 L274.1,175.7 L271.1,175.6 L268.1,175.5 L265.1,175.4 L262.2,175.2 L259.2,175.1 L256.2,175.0 L253.2,174.9 L250.2,174.8" fill="none" stroke="#000080" stroke-width="6.2" stroke-linejoin="round"/>
</g>
<g fill="#000">
<rect x="242.7" y="112.1" width="7.3" height="727"/>
<rect x="1243.7" y="112.1" width="5" height="727"/>
<rect x="242.7" y="112.1" width="1006" height="5"/>
<rect x="242.7" y="834.1" width="1006" height="5"/>
<rect x="368.9" y="829.1" width="4.8" height="7.0"/>
<rect x="368.9" y="115.1" width="4.8" height="7.0"/>
<rect x="493.9" y="822.1" width="4.8" height="14.0"/>
<rect x="493.9" y="115.1" width="4.8" height="14.0"/>
<rect x="618.9" y="829.1" width="4.8" height="7.0"/>
<rect x="618.9" y="115.1" width="4.8" height="7.0"/>
<rect x="743.9" y="822.1" width="4.8" height="14.0"/>
<rect x="743.9" y="115.1" width="4.8" height="14.0"/>
<rect x="868.8" y="829.1" width="4.8" height="7.0"/>
<rect x="868.8" y="115.1" width="4.8" height="7.0"/>
<rect x="993.8" y="822.1" width="4.8" height="14.0"/>
<rect x="993.8" y="115.1" width="4.8" height="14.0"/>
<rect x="1118.8" y="829.1" width="4.8" height="7.0"/>
<rect x="1118.8" y="115.1" width="4.8" height="7.0"/>
<rect x="247.8" y="744.0" width="7.0" height="4.8"/>
<rect x="1238.7" y="744.0" width="7.0" height="4.8"/>
<rect x="247.8" y="653.7" width="14.0" height="4.8"/>
<rect x="1231.7" y="653.7" width="14.0" height="4.8"/>
<rect x="247.8" y="563.5" width="7.0" height="4.8"/>
<rect x="1238.7" y="563.5" width="7.0" height="4.8"/>
<rect x="247.8" y="473.2" width="14.0" height="4.8"/>
<rect x="1231.7" y="473.2" width="14.0" height="4.8"/>
<rect x="247.8" y="383.0" width="7.0" height="4.8"/>
<rect x="1238.7" y="383.0" width="7.0" height="4.8"/>
<rect x="247.8" y="292.7" width="14.0" height="4.8"/>
<rect x="1231.7" y="292.7" width="14.0" height="4.8"/>
<rect x="247.8" y="202.5" width="7.0" height="4.8"/>
<rect x="1238.7" y="202.5" width="7.0" height="4.8"/>
</g>
<rect x="272.3" y="192.2" width="10.3" height="103" fill="#000"/>
<path d="M265.1,294.5 L289.8,294.5 L282.6,319 L279.8,321.6 L275.1,321.6 L272.3,319 Z" fill="#000"/>
<g class="t">
<text x="249.73" y="86.80" font-size="61.00" stroke-width="0.70">W</text>
<text x="309.43" y="86.80" font-size="61.00" stroke-width="0.70">/</text>
<text x="326.30" y="86.80" font-size="61.00" stroke-width="0.70">L</text>
<path d="M380.5,57.9H410.6V62.1H380.5Z M380.5,70.3H410.6V74.5H380.5Z" fill="#000"/>
<text x="430.40" y="86.80" font-size="61.00" stroke-width="0.70">5</text>
<text x="465.09" y="86.80" font-size="61.00" stroke-width="0.70">0</text>
<text x="498.19" y="86.80" font-size="61.00" stroke-width="0.70">0</text>
<text class="s" x="551.94" y="86.80" font-size="53.00" stroke-width="0.30">µ</text>
<text x="581.88" y="86.80" font-size="61.00" stroke-width="0.70">m</text>
<text x="634.13" y="86.80" font-size="61.00" stroke-width="0.70">/</text>
<text x="649.86" y="86.80" font-size="61.00" stroke-width="0.70">7</text>
<text x="684.49" y="86.80" font-size="61.00" stroke-width="0.70">0</text>
<text x="718.79" y="86.80" font-size="61.00" stroke-width="0.70">0</text>
<text class="s" x="772.49" y="86.80" font-size="53.00" stroke-width="0.30">µ</text>
<text x="802.53" y="86.80" font-size="61.00" stroke-width="0.70">m</text>
<text x="816.34" y="201.40" font-size="79.20" stroke-width="0.70">L</text>
<text x="860.81" y="230.80" font-size="44.20" stroke-width="0.70">C</text>
<path d="M918.4,165.4H954.1V171.3H918.4Z M918.4,180.3H954.1V186.2H918.4Z" fill="#000"/>
<text x="977.76" y="201.40" font-size="79.20" stroke-width="0.70">6</text>
<text x="1019.38" y="201.40" font-size="79.20" stroke-width="0.70">0</text>
<text x="1062.28" y="201.40" font-size="79.20" stroke-width="0.70">0</text>
<text class="s" x="1129.58" y="201.40" font-size="64.50" stroke-width="0.30">µ</text>
<text transform="translate(1196.70,201.40) scale(1.000,0.935)" x="-33.01" y="0" font-size="79.20" stroke-width="0.70">m</text>
<text transform="translate(326.30,246.30) scale(0.930,1.000)" x="-19.34" y="0" font-size="58.00" stroke-width="0.43">V</text>
<text x="345.22" y="265.70" font-size="34.20" stroke-width="0.40">G</text>
<text x="371.00" y="265.70" font-size="34.20" stroke-width="0.40">S</text>
<path d="M412.9,219.5H438.7V223.7H412.9Z M412.9,232.2H438.7V236.4H412.9Z" fill="#000"/>
<rect x="458.6" y="229.7" width="15.2" height="4.3" fill="#000"/>
<path d="M496.20,246.30 L496.20,205.29 L490.40,205.29 L479.38,214.69 L479.38,219.33 L491.85,209.76 L491.85,246.30 Z" fill="#000"/>
<text x="506.82" y="246.30" font-size="58.00" stroke-width="0.40">0</text>
<text transform="translate(571.70,246.30) scale(0.930,1.000)" x="-19.34" y="0" font-size="58.00" stroke-width="0.43">V</text>
<text x="307.05" y="318.20" font-size="57.00" stroke-width="0.40">2</text>
<text transform="translate(373.35,318.20) scale(0.960,1.000)" x="-19.01" y="0" font-size="57.00" stroke-width="0.42">V</text>
<text x="391.33" y="318.20" font-size="57.00" stroke-width="0.40">/</text>
<text x="406.44" y="318.20" font-size="57.00" stroke-width="0.40">s</text>
<text x="433.51" y="318.20" font-size="57.00" stroke-width="0.40">t</text>
<text x="450.06" y="318.20" font-size="57.00" stroke-width="0.40">e</text>
<text x="479.86" y="318.20" font-size="57.00" stroke-width="0.40">p</text>
<text x="154.82" y="123.70" font-size="74.00" stroke-width="0.90">8</text>
<text x="195.42" y="123.70" font-size="74.00" stroke-width="0.90">0</text>
<text x="154.57" y="305.60" font-size="74.00" stroke-width="0.90">6</text>
<text x="195.42" y="305.60" font-size="74.00" stroke-width="0.90">0</text>
<text x="155.06" y="485.00" font-size="74.00" stroke-width="0.90">4</text>
<text x="195.42" y="485.00" font-size="74.00" stroke-width="0.90">0</text>
<text x="154.82" y="667.20" font-size="74.00" stroke-width="0.90">2</text>
<text x="195.42" y="667.20" font-size="74.00" stroke-width="0.90">0</text>
<text x="195.42" y="845.50" font-size="74.00" stroke-width="0.90">0</text>
<rect x="195.8" y="889.6" width="18.5" height="4.0" fill="#000"/>
<text x="217.00" y="908.20" font-size="73.00" stroke-width="0.90">2</text>
<text x="258.55" y="908.20" font-size="73.00" stroke-width="0.90">0</text>
<rect x="444.9" y="889.6" width="20.7" height="4.0" fill="#000"/>
<path d="M496.00,908.20 L496.00,856.59 L488.70,856.59 L474.83,868.42 L474.83,874.25 L490.52,862.21 L490.52,908.20 Z" fill="#000"/>
<text x="507.97" y="908.20" font-size="73.00" stroke-width="0.90">5</text>
<rect x="694.0" y="889.6" width="21.3" height="4.0" fill="#000"/>
<path d="M745.70,908.20 L745.70,856.59 L738.40,856.59 L724.53,868.42 L724.53,874.25 L740.23,862.21 L740.23,908.20 Z" fill="#000"/>
<text x="759.30" y="908.20" font-size="73.00" stroke-width="0.90">0</text>
<rect x="965.5" y="889.6" width="20.6" height="4.0" fill="#000"/>
<text x="988.17" y="908.20" font-size="73.00" stroke-width="0.90">5</text>
<text x="1225.95" y="908.20" font-size="73.00" stroke-width="0.90">0</text>
<text transform="translate(638.60,1015.60) scale(0.930,1.000)" x="-31.35" y="0" font-size="94.00" stroke-width="0.22">V</text>
<text x="668.04" y="1030.40" font-size="57.40" stroke-width="0.20">D</text>
<text x="709.17" y="1030.40" font-size="57.40" stroke-width="0.20">S</text>
<text x="769.31" y="1015.60" font-size="94.00" stroke-width="0.20">[</text>
<text transform="translate(827.90,1015.60) scale(0.930,1.000)" x="-31.35" y="0" font-size="94.00" stroke-width="0.22">V</text>
<text x="857.58" y="1015.60" font-size="94.00" stroke-width="0.20">]</text>
<text transform="translate(102.60,611.55) rotate(-90)" x="-12.21" y="0" font-size="94.00" stroke-width="0.20">|</text>
<text transform="translate(102.60,585.20) rotate(-90)" x="-13.06" y="0" font-size="94.00" stroke-width="0.20">I</text>
<text transform="translate(115.30,551.90) rotate(-90)" x="-21.71" y="0" font-size="57.40" stroke-width="0.20">D</text>
<text transform="translate(102.60,524.15) rotate(-90)" x="-12.21" y="0" font-size="94.00" stroke-width="0.20">|</text>
<text transform="translate(102.60,471.80) rotate(-90)" x="-16.04" y="0" font-size="94.00" stroke-width="0.20">[</text>
<text class="s" transform="translate(102.60,438.50) rotate(-90)" x="-21.88" y="0" font-size="76.00" stroke-width="0.20">µ</text>
<text transform="translate(102.60,385.45) rotate(-90) scale(0.950,1)" x="-31.35" y="0" font-size="94.00" stroke-width="0.20">A</text>
<text transform="translate(102.60,345.10) rotate(-90)" x="-10.07" y="0" font-size="94.00" stroke-width="0.20">]</text>
</g>

</svg>
</body></html>
